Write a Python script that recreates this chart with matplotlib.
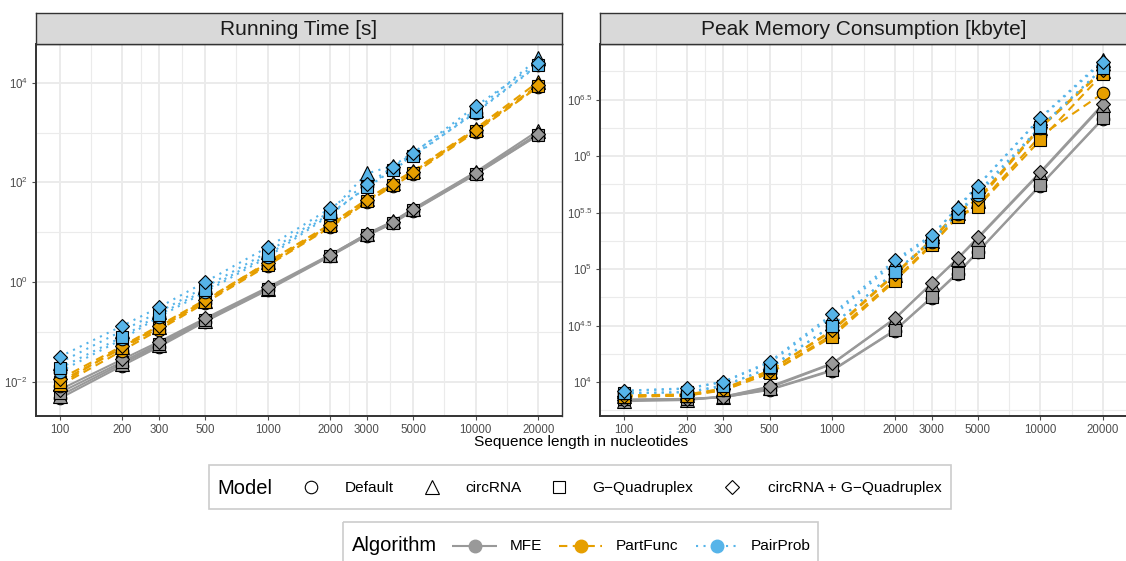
import numpy as np
import matplotlib
matplotlib.use('Agg')
import matplotlib.pyplot as plt
from matplotlib.patches import Rectangle

plt.rcParams['font.family'] = ['Liberation Sans', 'DejaVu Sans']
plt.rcParams['mathtext.fontset'] = 'custom'
plt.rcParams['mathtext.rm'] = 'Liberation Sans'
plt.rcParams['mathtext.it'] = 'Liberation Sans:italic'
plt.rcParams['mathtext.bf'] = 'Liberation Sans:bold'

# ---------------- data ----------------
lengths = [100, 200, 300, 500, 1000, 2000, 3000, 4000, 5000, 10000, 20000]
tick_lengths = [100, 200, 300, 500, 1000, 2000, 3000, 5000, 10000, 20000]
algorithms = ['MFE', 'PartFunc', 'PairProb']
models = ['Default', 'circRNA', 'G-Quadruplex', 'circRNA + G-Quadruplex']
model_labels = ['Default', 'circRNA', 'G\u2212Quadruplex', 'circRNA + G\u2212Quadruplex']
panel_titles = ['Running Time [s]', 'Peak Memory Consumption [kbyte]']
x_label = 'Sequence length in nucleotides'

# running time [s]
time_mfe_default = [0.0046, 0.021, 0.050, 0.16, 0.69, 3.3, 8.5, 15.1, 26.9, 145, 891]
time_mfe_circ = [0.0052, 0.023, 0.054, 0.166, 0.72, 3.47, 9.3, 16.6, 29.5, 162, 1096]
time_mfe_gquad = [0.0060, 0.025, 0.058, 0.174, 0.74, 3.39, 8.7, 15.5, 27.5, 148, 912]
time_mfe_circgquad = [0.0069, 0.028, 0.063, 0.186, 0.78, 3.55, 9.1, 16.2, 28.8, 155, 955]

time_pf_default = [0.0083, 0.042, 0.11, 0.38, 2.14, 12.6, 39.8, 85, 148, 1047, 8318]
time_pf_circ = [0.0089, 0.050, 0.126, 0.42, 2.51, 14.5, 45.7, 98, 170, 1202, 10471]
time_pf_gquad = [0.010, 0.047, 0.12, 0.40, 2.24, 13.2, 41.7, 89, 155, 1096, 8511]
time_pf_circgquad = [0.0112, 0.052, 0.132, 0.44, 2.40, 13.8, 43.7, 93, 162, 1148, 8913]

time_pp_default = [0.0158, 0.071, 0.20, 0.63, 3.16, 22.4, 83, 186, 347, 2512, 22387]
time_pp_circ = [0.024, 0.105, 0.25, 0.79, 3.98, 26.3, 151, 214, 398, 2818, 30903]
time_pp_gquad = [0.0186, 0.079, 0.22, 0.69, 3.47, 24.0, 79, 178, 331, 2630, 22909]
time_pp_circgquad = [0.0316, 0.132, 0.31, 1.00, 5.0, 30.2, 91, 204, 380, 3388, 25119]

# peak memory [kbyte]
mem_mfe_default = [6918, 6998, 7328, 8511, 12589, 28510, 55590, 91201, 141254, 549541, 2138000]
mem_mfe_circ = [6761, 6918, 7413, 8913, 14454, 36308, 74131, 123027, 186209, 707946, 2818383]
mem_mfe_gquad = [6998, 7079, 7328, 8610, 12764, 28840, 56234, 92683, 142233, 555904, 2162719]
mem_mfe_circgquad = [6918, 7031, 7413, 9120, 14622, 36644, 74645, 124451, 190546, 724436, 2897344]

mem_pf_default = [7413, 7586, 8511, 12023, 26303, 81283, 165959, 295121, 363078, 1513561, 3606000]
mem_pf_circ = [7586, 7674, 8710, 12589, 28184, 89125, 177828, 316228, 398107, 1778279, 5623413]
mem_pf_gquad = [7413, 7586, 8414, 11940, 25119, 78343, 162181, 288403, 354813, 1389953, 5370318]
mem_pf_circgquad = [7586, 7762, 8710, 12589, 28840, 91201, 181970, 323594, 416869, 1819701, 5754399]

mem_pp_default = [7943, 8128, 9333, 13183, 31623, 95499, 173780, 309030, 457088, 1778279, 6025596]
mem_pp_circ = [8318, 8710, 10000, 14791, 38019, 114815, 194984, 354813, 549541, 2187762, 7079458]
mem_pp_gquad = [7943, 8128, 9120, 13490, 31623, 94624, 177828, 316228, 478630, 1819701, 6025596]
mem_pp_circgquad = [8375, 8790, 10069, 15136, 39811, 120226, 199526, 344350, 544503, 2162719, 6854882]

time_data = {
    'MFE': [time_mfe_default, time_mfe_circ, time_mfe_gquad, time_mfe_circgquad],
    'PartFunc': [time_pf_default, time_pf_circ, time_pf_gquad, time_pf_circgquad],
    'PairProb': [time_pp_default, time_pp_circ, time_pp_gquad, time_pp_circgquad],
}
mem_data = {
    'MFE': [mem_mfe_default, mem_mfe_circ, mem_mfe_gquad, mem_mfe_circgquad],
    'PartFunc': [mem_pf_default, mem_pf_circ, mem_pf_gquad, mem_pf_circgquad],
    'PairProb': [mem_pp_default, mem_pp_circ, mem_pp_gquad, mem_pp_circgquad],
}

# ---------------- styles ----------------
colors = {'MFE': '#999999', 'PartFunc': '#E69F00', 'PairProb': '#56B4E9'}
line_styles = {'MFE': '-', 'PartFunc': (0, (4, 2.6)), 'PairProb': (0, (1, 2.6))}
markers = ['o', '^', 's', 'D']
msizes = [9.0, 9.5, 8.2, 7.3]

W, H = 1126, 561
fig = plt.figure(figsize=(W / 100, H / 100), dpi=100)


def fx(px):
    return px / W


def fy(py):
    return 1 - py / H


panel_top, panel_bot = 43.7, 416.3
strip_top = 12.7
panels = [(35.7, 562.3), (600.3, 1126.9)]

xlim = (10 ** 1.885, 10 ** 4.416)
ylims = [(10 ** -2.695, 10 ** 4.783), (10 ** 3.696, 10 ** 6.996)]
major_y = [[1e-2, 1e0, 1e2, 1e4], [10 ** 4, 10 ** 4.5, 10 ** 5, 10 ** 5.5, 10 ** 6, 10 ** 6.5]]
major_y_labels = [[r'$10^{-2}$', r'$10^{0}$', r'$10^{2}$', r'$10^{4}$'],
                  [r'$10^{4}$', r'$10^{4.5}$', r'$10^{5}$', r'$10^{5.5}$', r'$10^{6}$', r'$10^{6.5}$']]
datasets = [time_data, mem_data]

grid_col = '#EBEBEB'
border_col = '#333333'
tick_col = '#4D4D4D'

for pi, (x0, x1) in enumerate(panels):
    ax = fig.add_axes([fx(x0), fy(panel_bot), fx(x1) - fx(x0), fy(panel_top) - fy(panel_bot)])
    ax.set_xscale('log')
    ax.set_yscale('log')
    ax.set_xlim(*xlim)
    ax.set_ylim(*ylims[pi])
    ax.set_facecolor('white')

    # grid: majors + geometric-midpoint minors
    yt = major_y[pi]
    ly = np.log10(yt)
    step = ly[1] - ly[0]
    minor_y = 10 ** np.concatenate([[ly[0] - step / 2], (ly[:-1] + ly[1:]) / 2, [ly[-1] + step / 2]])
    lx = np.log10(tick_lengths)
    minor_x = 10 ** ((lx[:-1] + lx[1:]) / 2)
    for v in minor_x:
        ax.axvline(v, color=grid_col, lw=0.8, zorder=0)
    for v in minor_y:
        ax.axhline(v, color=grid_col, lw=0.8, zorder=0)
    for v in tick_lengths:
        ax.axvline(v, color=grid_col, lw=1.4, zorder=0)
    for v in yt:
        ax.axhline(v, color=grid_col, lw=1.4, zorder=0)

    data = datasets[pi]
    # lines
    for alg in algorithms:
        for mi, m in enumerate(models):
            ax.plot(lengths, data[alg][mi], color=colors[alg], linestyle=line_styles[alg],
                    lw=1.5, zorder=2, solid_capstyle='butt', dash_capstyle='butt')
    # points
    z = 3
    for alg in algorithms:
        for mi, m in enumerate(models):
            ax.plot(lengths, data[alg][mi], linestyle='none', marker=markers[mi],
                    markersize=msizes[mi], markerfacecolor=colors[alg],
                    markeredgecolor='black', markeredgewidth=0.8, zorder=z)
            z += 0.01

    ax.set_xticks(tick_lengths)
    ax.set_xticklabels([str(v) for v in tick_lengths])
    ax.xaxis.set_minor_locator(matplotlib.ticker.NullLocator())
    ax.set_yticks(yt)
    ax.set_yticklabels(major_y_labels[pi])
    ax.yaxis.set_minor_locator(matplotlib.ticker.NullLocator())
    ax.tick_params(axis='both', which='major', length=3.2, width=0.8, color=tick_col,
                   labelcolor=tick_col, labelsize=8.3, pad=2.5)
    for s in ax.spines.values():
        s.set_color(border_col)
        s.set_linewidth(1.0)
    ax.spines['left'].set_linewidth(1.4)
    ax.spines['bottom'].set_linewidth(1.4)

    # strip
    sax = fig.add_axes([fx(x0), fy(panel_top), fx(x1) - fx(x0), fy(strip_top) - fy(panel_top)])
    sax.set_facecolor('#D9D9D9')
    sax.set_xticks([])
    sax.set_yticks([])
    for s in sax.spines.values():
        s.set_color(border_col)
        s.set_linewidth(1.0)
    cx = (min(x1, W) + x0) / 2 if pi == 1 else (x0 + x1) / 2
    sax.text(0.5 if pi == 0 else (((x0 + x1) / 2) - x0) / (x1 - x0), 0.47, panel_titles[pi],
             transform=sax.transAxes, ha='center', va='center', fontsize=15, color='#1A1A1A')

# x-axis title
fig.text(fx((35.7 + 1126.9) / 2), fy(442), x_label, ha='center', va='center', fontsize=11.1, color='black')

# ---------------- legends (overlay) ----------------
lax = fig.add_axes([0, 0, 1, 1])
lax.set_xlim(0, W)
lax.set_ylim(H, 0)
lax.axis('off')

# model legend box
lax.add_patch(Rectangle((208.7, 465.0), 951 - 208.7, 509.3 - 465.0, fill=False,
                        edgecolor='#CCCCCC', lw=1.2))
ym = 488.3
lax.text(217, ym, 'Model', fontsize=14.5, ha='left', va='center', color='black')
model_key_x = [310.5, 432.0, 558.7, 731.5]
model_text_x = [344.5, 465.6, 592.6, 768.0]
for mi in range(4):
    lax.plot([model_key_x[mi]], [ym - 1], linestyle='none', marker=markers[mi],
             markersize=msizes[mi], markerfacecolor='white', markeredgecolor='black',
             markeredgewidth=0.8)
    lax.text(model_text_x[mi], ym, model_labels[mi], fontsize=11.1, ha='left', va='center')

# algorithm legend box
lax.add_patch(Rectangle((343, 521.7), 818 - 343, 45, fill=False, edgecolor='#CCCCCC', lw=1.2))
ya = 545.5
lax.text(351.7, ya, 'Algorithm', fontsize=14.5, ha='left', va='center', color='black')
alg_key = [(452, 497), (559, 602), (696, 738)]
alg_text_x = [510, 616, 751]
for ai, alg in enumerate(algorithms):
    k0, k1 = alg_key[ai]
    lax.plot([k0, k1], [ya, ya], color=colors[alg], linestyle=line_styles[alg], lw=1.5,
             solid_capstyle='butt', dash_capstyle='butt')
    lax.plot([(k0 + k1) / 2], [ya], linestyle='none', marker='o', markersize=9,
             markerfacecolor=colors[alg], markeredgecolor=colors[alg])
    lax.text(alg_text_x[ai], ya, alg, fontsize=11.1, ha='left', va='center')

fig.savefig('out.png', dpi=100, facecolor='white')
